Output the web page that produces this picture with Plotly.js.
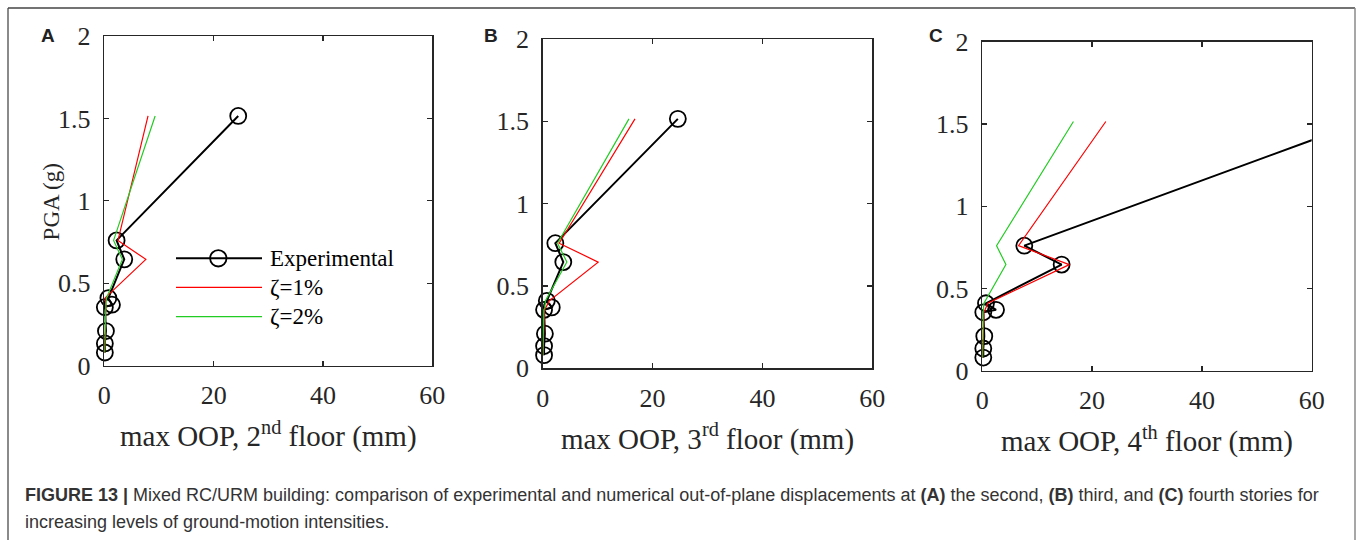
<!DOCTYPE html>
<html>
<head>
<meta charset="utf-8">
<script src="https://cdn.plot.ly/plotly-3.0.1.min.js"></script>
<style>html,body{margin:0;padding:0;background:#fff;}#chart{width:1357px;height:540px;}</style>
</head>
<body>
<div id="chart"></div>
<script>
// ---- data ----
const pga = [0.08, 0.135, 0.21, 0.355, 0.37, 0.41, 0.645, 0.76, 1.515];

const expA   = [0.1, 0.1, 0.3, 0.1, 1.4, 0.75, 3.65, 2.25, 24.5];
const zeta1A = [0.05, 0.1, 0.2, 0.3, 0.3, 0.1, 7.6, 2.5, 8.0];
const zeta2A = [0.05, 0.1, 0.2, 0.2, 0.3, 0.4, 3.3, 1.7, 9.3];

const expB   = [0.25, 0.25, 0.4, 0.25, 1.65, 0.75, 3.75, 2.3, 24.6];
const zeta1B = [0.05, 0.1, 0.2, 0.3, 0.6, 1.2, 10.1, 3.0, 16.8];
const zeta2B = [0.05, 0.1, 0.2, 0.2, 0.4, 0.5, 4.4, 2.7, 15.7];

const expC   = [0.18, 0.18, 0.36, 0.18, 2.5, 0.67, 14.45, 7.65, 69.3];
const zeta1C = [0.05, 0.1, 0.2, 0.3, 0.5, 1.0, 15.85, 6.6, 22.5];
const zeta2C = [0.05, 0.1, 0.1, 0.15, 0.2, 0.3, 4.3, 2.6, 16.6];

const xTicks = [0, 20, 40, 60];
const yTicks = [0, 0.5, 1, 1.5, 2];
const yTickText = ['0', '0.5', '1', '1.5', '2'];
const seriesNames = ['Experimental', 'ζ=1%', 'ζ=2%'];
const xTitles = ['max OOP, 2<sup>nd</sup> floor (mm)', 'max OOP, 3<sup>rd</sup> floor (mm)', 'max OOP, 4<sup>th</sup> floor (mm)'];
const yTitle = 'PGA (g)';
const panelLabels = ['A', 'B', 'C'];

// ---- styling / layout ----
const W = 1357, H = 540;
const px = v => v / W;
const py = v => 1 - v / H;
const serif = 'Liberation Serif, Times New Roman, serif';
const sans = 'Liberation Sans, Arial, Helvetica, sans-serif';
const axColor = '#262626';
const RED = '#ff0000', GREEN = '#22cc22';

const panels = [
  {exp: expA, z1: zeta1A, z2: zeta2A, x: [104.3, 432.3], y: [36, 365.7]},
  {exp: expB, z1: zeta1B, z2: zeta2B, x: [542.7, 872.3], y: [39, 368.3]},
  {exp: expC, z1: zeta1C, z2: zeta2C, x: [982.3, 1311.7], y: [41.7, 370.7]}
];

const traces = [];
const layout = {
  width: W, height: H,
  margin: {l: 0, r: 0, t: 0, b: 0},
  paper_bgcolor: '#fff', plot_bgcolor: '#fff',
  showlegend: false,
  shapes: [], annotations: []
};

panels.forEach((p, i) => {
  const sfx = i === 0 ? '' : String(i + 1);
  const xa = 'x' + sfx, ya = 'y' + sfx;
  traces.push({
    x: p.exp, y: pga, xaxis: xa, yaxis: ya, name: seriesNames[0],
    mode: 'lines+markers', cliponaxis: false,
    line: {color: '#000', width: 2},
    marker: {symbol: 'circle-open', size: 16, color: '#000', line: {width: 1.8}}
  });
  traces.push({
    x: p.z1, y: pga, xaxis: xa, yaxis: ya, name: seriesNames[1],
    mode: 'lines', line: {color: RED, width: 1.2}
  });
  traces.push({
    x: p.z2, y: pga, xaxis: xa, yaxis: ya, name: seriesNames[2],
    mode: 'lines', line: {color: GREEN, width: 1.2}
  });

  layout['xaxis' + sfx] = {
    domain: [px(p.x[0]), px(p.x[1])], anchor: ya,
    range: [0, 60], tickvals: xTicks, ticktext: xTicks.map(String),
    showgrid: false, zeroline: false,
    showline: true, linecolor: axColor, linewidth: 1.5, mirror: 'ticks',
    ticks: 'inside', ticklen: 5, tickwidth: 1.2, tickcolor: axColor,
    ticklabelstandoff: 6,
    tickfont: {family: serif, size: 26, color: axColor},
    title: {text: xTitles[i], font: {family: serif, size: 29, color: axColor}, standoff: 16},
    automargin: false, fixedrange: true
  };
  layout['yaxis' + sfx] = {
    domain: [py(p.y[1]), py(p.y[0])], anchor: xa,
    range: [0, 2], tickvals: yTicks, ticktext: yTickText,
    showgrid: false, zeroline: false,
    showline: true, linecolor: axColor, linewidth: 1.5, mirror: 'ticks',
    ticks: 'inside', ticklen: 5, tickwidth: 1.2, tickcolor: axColor,
    ticklabelstandoff: 7,
    tickfont: {family: serif, size: 26, color: axColor},
    automargin: false, fixedrange: true
  };

  const labelPos = [[39, 36], [482, 35.5], [927, 35.5]][i];
  layout.annotations.push({
    text: '<b>' + panelLabels[i] + '</b>', xref: 'paper', yref: 'paper',
    x: px(labelPos[0]), y: py(labelPos[1]), xanchor: 'left', yanchor: 'middle',
    showarrow: false, font: {family: sans, size: 19, color: '#222'}
  });
});

// y-axis title of panel A (placed as rotated text next to the tick labels)
layout.annotations.push({
  text: yTitle, xref: 'paper', yref: 'paper',
  x: px(51.7), y: py(201.7), xanchor: 'center', yanchor: 'middle',
  textangle: -90, showarrow: false,
  font: {family: serif, size: 23, color: axColor}
});

// ---- custom legend in panel A ----
const legRows = [258.3, 287.3, 316.7];
const legColors = ['#000', RED, GREEN];
const legWidths = [2, 1.2, 1.2];
legRows.forEach((ry, k) => {
  layout.shapes.push({
    type: 'line', xref: 'paper', yref: 'paper',
    x0: px(176), x1: px(262), y0: py(ry), y1: py(ry),
    line: {color: legColors[k], width: legWidths[k]}
  });
  layout.annotations.push({
    text: seriesNames[k], xref: 'paper', yref: 'paper',
    x: px(268), y: py(ry), xanchor: 'left', yanchor: 'middle',
    showarrow: false, font: {family: serif, size: 23, color: '#000'}
  });
});
layout.shapes.push({
  type: 'circle', xref: 'paper', yref: 'paper',
  xsizemode: 'pixel', ysizemode: 'pixel',
  xanchor: px(218.3), yanchor: py(legRows[0]),
  x0: -8.2, x1: 8.2, y0: -8.2, y1: 8.2,
  line: {color: '#000', width: 1.8}, fillcolor: 'rgba(0,0,0,0)'
});

// ---- figure frame ----
layout.shapes.push({
  type: 'path', xref: 'paper', yref: 'paper',
  path: `M ${px(8)} ${py(540)} L ${px(8)} ${py(8)}`,
  line: {color: '#8a8a8a', width: 2}
});
layout.shapes.push({
  type: 'path', xref: 'paper', yref: 'paper',
  path: `M ${px(8)} ${py(8)} L ${px(1355)} ${py(8)}`,
  line: {color: '#444', width: 1.5}
});
layout.shapes.push({
  type: 'path', xref: 'paper', yref: 'paper',
  path: `M ${px(1355)} ${py(8)} L ${px(1355)} ${py(540)}`,
  line: {color: '#8a8a8a', width: 1.5}
});

// ---- caption ----
const captionLine1 = '<b>FIGURE 13 |</b> Mixed RC/URM building: comparison of experimental and numerical out-of-plane displacements at <b>(A)</b> the second, <b>(B)</b> third, and <b>(C)</b> fourth stories for';
const captionLine2 = 'increasing levels of ground-motion intensities.';
[[captionLine1, 495], [captionLine2, 522]].forEach(([t, y]) => {
  layout.annotations.push({
    text: t, xref: 'paper', yref: 'paper', x: px(22.7), y: py(y),
    xanchor: 'left', yanchor: 'middle', showarrow: false, align: 'left',
    font: {family: sans, size: 18, color: '#333'}
  });
});

Plotly.newPlot('chart', traces, layout, {staticPlot: true, displayModeBar: false});
</script>
</body>
</html>
